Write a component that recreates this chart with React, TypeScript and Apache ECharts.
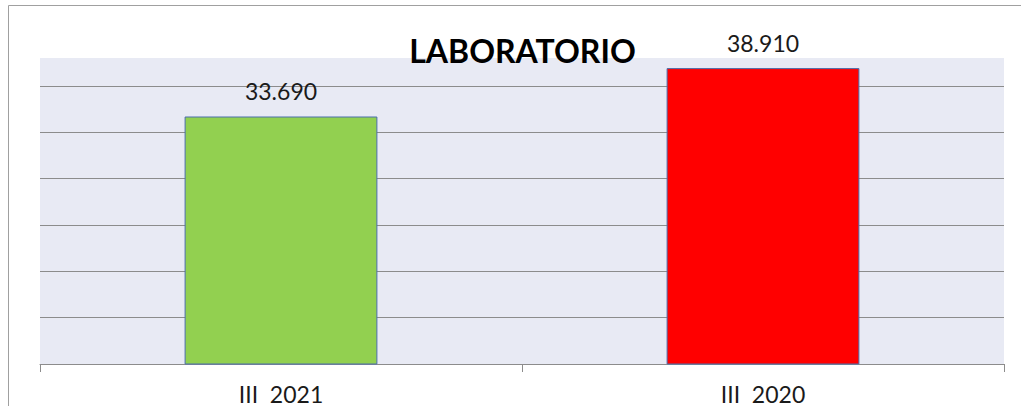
import React, { useEffect, useRef } from "react";
import * as echarts from "echarts";

const categories = ["III  2021", "III  2020"];
const values = [33690, 38910];
const barColors = ["#92D050", "#FF0000"];
const titleText = "LABORATORIO";
const yMin = 7000;
const yMax = 40000;
const gridStep = 5000;

const fmt = (v: number) => String(v).replace(/\B(?=(\d{3})+(?!\d))/g, ".");

export default function App() {
  const ref = useRef<HTMLDivElement>(null);
  useEffect(() => {
    if (!ref.current) return;
    const chart = echarts.init(ref.current, undefined, { renderer: "svg" });
    const labelFont = "Lato, 'Open Sans', sans-serif";
    chart.setOption({
      animation: false,
      backgroundColor: "#ffffff",
      grid: {
        left: 40,
        right: 17,
        top: 58,
        bottom: 42,
        show: true,
        backgroundColor: "#E8EAF4",
        borderWidth: 0,
      },
      graphic: [
        {
          type: "rect",
          shape: { x: 8.5, y: 5.5, width: 1100, height: 500 },
          style: { fill: "none", stroke: "#A0A0A0", lineWidth: 1 },
          z: 0,
          silent: true,
        },
        {
          type: "text",
          x: 522.5,
          y: 50,
          z: 10,
          style: {
            text: titleText,
            fill: "#000000",
            font: "bold 32px Lato, sans-serif",
            textAlign: "center",
            textVerticalAlign: "middle",
          },
        },
      ],
      xAxis: {
        type: "category",
        data: categories,
        axisLine: { show: true, lineStyle: { color: "#8C8C8C", width: 1 } },
        axisTick: { show: true, length: 8, alignWithLabel: false, lineStyle: { color: "#8C8C8C" } },
        axisLabel: { color: "#1A1A1A", fontSize: 23, fontFamily: labelFont, margin: 18 },
        splitLine: { show: false },
      },
      yAxis: [
        {
          type: "value",
          min: yMin,
          max: yMax,
          axisLabel: { show: false },
          axisLine: { show: false },
          axisTick: { show: false },
          splitLine: { show: false },
        },
        {
          type: "value",
          min: 0,
          max: yMax - yMin,
          interval: gridStep,
          position: "left",
          axisLabel: { show: false },
          axisLine: { show: false },
          axisTick: { show: false },
          splitLine: {
            show: true,
            showMinLine: false,
            showMaxLine: false,
            lineStyle: { color: "#8C8C8C", width: 1 },
          },
        },
      ],
      series: [
        {
          type: "bar",
          yAxisIndex: 0,
          barWidth: "40%",
          data: values.map((v, i) => ({
            value: v,
            itemStyle: { color: barColors[i], borderColor: "#4A6EAD", borderWidth: 1 },
          })),
          label: {
            show: true,
            position: "top",
            distance: 14,
            color: "#1A1A1A",
            fontSize: 23,
            fontFamily: labelFont,
            formatter: (p: any) => fmt(p.value),
          },
        },
      ],
    });
    return () => chart.dispose();
  }, []);
  return (
    <div
      ref={ref}
      style={{ position: "absolute", left: 0, top: 0, width: 1021, height: 406 }}
    />
  );
}
